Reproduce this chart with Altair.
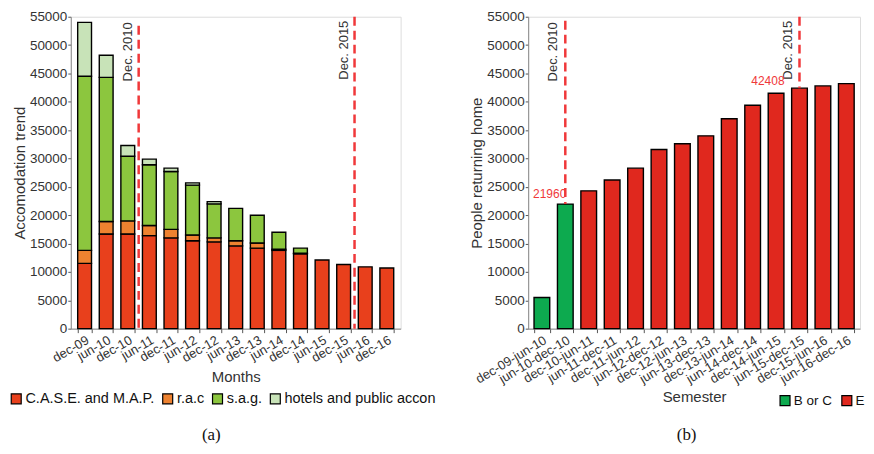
import altair as alt
import pandas as pd

# ---------------- data: panel (a) ----------------
months = ["dec-09", "jun-10", "dec-10", "jun-11", "dec-11", "jun-12", "dec-12",
          "jun-13", "dec-13", "jun-14", "dec-14", "jun-15", "dec-15", "jun-16", "dec-16"]
case_map = [11500, 16700, 16700, 16400, 16000, 15500, 15300, 14600, 14200, 13800,
            13200, 12100, 11300, 10900, 10700]
rac = [2300, 2200, 2300, 1800, 1500, 1000, 700, 900, 900, 200, 100, 0, 0, 0, 0]
sag = [30700, 25400, 11400, 10700, 10200, 8800, 6000, 5700, 4900, 3000, 900, 0, 0, 0, 0]
hotels = [9500, 3900, 1900, 1000, 600, 400, 400, 0, 0, 0, 0, 0, 0, 0, 0]
series_names = ["C.A.S.E. and M.A.P.", "r.a.c", "s.a.g.", "hotels and public accon"]
series_colors = ["#E8401C", "#EE8230", "#8CC63E", "#C8E3B8"]

rule_a_months = ["dec-10", "dec-15"]
rule_a_top = [53400, 55000]
rule_a_labels = ["Dec. 2010", "Dec. 2015"]
rule_a_label_y = [54000, 54300]

# ---------------- data: panel (b) ----------------
semesters = ["dec-09-jun-10", "jun-10-dec-10", "dec-10-jun-11", "jun-11-dec-11",
             "dec-11-jun-12", "jun-12-dec-12", "dec-12-jun-13", "jun-13-dec-13",
             "dec-13-jun-14", "jun-14-dec-14", "dec-14-jun-15", "jun-15-dec-15",
             "dec-15-jun-16", "jun-16-dec-16"]
returning = [5500, 21960, 24300, 26200, 28300, 31600, 32600, 34000, 37000, 39400,
             41500, 42408, 42800, 43200]
zones = ["B or C", "B or C"] + ["E"] * 12
zone_names = ["B or C", "E"]
zone_colors = ["#0DAA4F", "#E0281E"]

rule_b_sems = ["jun-10-dec-10", "jun-15-dec-15"]
rule_b_top = [54300, 55000]
rule_b_bottom = [21960, 42408]
rule_b_labels = ["Dec. 2010", "Dec. 2015"]
rule_b_label_y = [54000, 54300]
value_labels = ["21960", "42408"]
value_label_y = [23700, 43650]

# ---------------- build tables ----------------
rows = []
for i, m in enumerate(months):
    for k, vals in enumerate([case_map, rac, sag, hotels]):
        if vals[i] > 0:
            rows.append({"month": m, "series": series_names[k], "value": vals[i], "order": k})
df_a = pd.DataFrame(rows)
df_rule_a = pd.DataFrame({"month": rule_a_months, "top": rule_a_top,
                          "bottom": [0, 0], "label": rule_a_labels, "ly": rule_a_label_y})

df_b = pd.DataFrame({"sem": semesters, "value": returning, "zone": zones})
df_rule_b = pd.DataFrame({"sem": rule_b_sems, "top": rule_b_top, "bottom": rule_b_bottom,
                          "label": rule_b_labels, "ly": rule_b_label_y,
                          "vlabel": value_labels, "vy": value_label_y})

FONT = "Liberation Sans"
TXT = "#333333"
RED = "#F0383A"
H = 313

axis_style = dict(labelFont=FONT, titleFont=FONT, labelColor=TXT, titleColor=TXT,
                  titleFontSize=15, titleFontWeight="normal",
                  domainColor="#8a8a8a", tickColor="#555555", grid=False)

y_scale = alt.Scale(domain=[0, 55000], nice=False)
y_ticks = list(range(0, 55001, 5000))


def y_enc(field, title, **kw):
    return alt.Y(field, scale=y_scale, title=title,
                 axis=alt.Axis(values=y_ticks, format="d", labelOverlap=False, tickSize=3,
                               labelPadding=1, labelFontSize=13.5, titlePadding=2,
                               **axis_style), **kw)


legend_common = dict(orient="none", direction="horizontal", symbolType="square",
                     symbolSize=100, symbolStrokeColor="black", symbolStrokeWidth=1.2,
                     labelFont=FONT, labelColor="#111111", labelOffset=2, padding=0)

# ---------------- panel (a) ----------------
xa_scale = alt.Scale(domain=months, paddingInner=0.36, paddingOuter=0.32)
xa_axis = alt.Axis(labelAngle=-30, tickBand="extent", tickSize=4, labelFontSize=13,
                   labelAlign="right", labelBaseline="top", labelPadding=1,
                   titlePadding=5, **axis_style)


def xa_enc(**kw):
    return alt.X("month:N", scale=xa_scale, title="Months", axis=xa_axis, **kw)


bars_a = alt.Chart(df_a).mark_bar(stroke="black", strokeWidth=1.4).encode(
    x=xa_enc(),
    y=y_enc("value:Q", "Accomodation trend", stack="zero"),
    color=alt.Color("series:N", scale=alt.Scale(domain=series_names, range=series_colors),
                    title=None,
                    legend=alt.Legend(legendX=-62, legendY=376, labelFontSize=14.5,
                                      columnPadding=5, labelLimit=300, **legend_common)),
    order=alt.Order("order:Q"),
)

rules_a = alt.Chart(df_rule_a).mark_rule(color=RED, strokeWidth=2.5, strokeDash=[9, 5],
                                         xOffset=4).encode(
    x=xa_enc(bandPosition=1),
    y=y_enc("top:Q", "Accomodation trend"),
    y2="bottom:Q",
)

rule_text_a = alt.Chart(df_rule_a).mark_text(angle=270, align="right", baseline="bottom",
                                             xOffset=4, dy=-4, font=FONT, fontSize=13,
                                             color=TXT).encode(
    x=xa_enc(bandPosition=1),
    y=y_enc("ly:Q", "Accomodation trend"),
    text="label:N",
)

cap_a = alt.Chart(pd.DataFrame({"t": ["(a)"]})).mark_text(
    font="Liberation Serif", fontSize=17, color="#111111", align="center",
    baseline="middle").encode(x=alt.value(141), y=alt.value(420), text="t:N")

panel_a = alt.layer(bars_a, rules_a, rule_text_a, cap_a).properties(width=331, height=H)

# ---------------- panel (b) ----------------
xb_scale = alt.Scale(domain=semesters, paddingInner=0.33, paddingOuter=0.25)
xb_axis = alt.Axis(labelAngle=-31, tickBand="extent", tickSize=4, labelFontSize=13,
                   labelAlign="right", labelBaseline="top", labelPadding=1,
                   titlePadding=4, **axis_style)


def xb_enc(**kw):
    return alt.X("sem:N", scale=xb_scale, title="Semester", axis=xb_axis, **kw)


bars_b = alt.Chart(df_b).mark_bar(stroke="black", strokeWidth=1.4).encode(
    x=xb_enc(),
    y=y_enc("value:Q", "People returning home"),
    color=alt.Color("zone:N", scale=alt.Scale(domain=zone_names, range=zone_colors),
                    title=None,
                    legend=alt.Legend(legendX=251, legendY=378, labelFontSize=13.5,
                                      columnPadding=7, **legend_common)),
)

rules_b = alt.Chart(df_rule_b).mark_rule(color=RED, strokeWidth=2.5,
                                         strokeDash=[9, 5]).encode(
    x=xb_enc(bandPosition=0.5),
    y=y_enc("top:Q", "People returning home"),
    y2="bottom:Q",
)

rule_text_b = alt.Chart(df_rule_b).mark_text(angle=270, align="right", baseline="bottom",
                                             dy=-5, font=FONT, fontSize=13,
                                             color=TXT).encode(
    x=xb_enc(bandPosition=0.5),
    y=y_enc("ly:Q", "People returning home"),
    text="label:N",
)

val_text_1 = alt.Chart(df_rule_b.iloc[[0]]).mark_text(
    align="right", baseline="middle", dx=1, font=FONT, fontSize=12, color=RED).encode(
    x=xb_enc(bandPosition=0.5),
    y=y_enc("vy:Q", "People returning home"),
    text="vlabel:N",
)
val_text_2 = alt.Chart(df_rule_b.iloc[[1]]).mark_text(
    align="right", baseline="middle", dx=-15, font=FONT, fontSize=12, color=RED).encode(
    x=xb_enc(bandPosition=0.5),
    y=y_enc("vy:Q", "People returning home"),
    text="vlabel:N",
)

cap_b = alt.Chart(pd.DataFrame({"t": ["(b)"]})).mark_text(
    font="Liberation Serif", fontSize=17, color="#111111", align="center",
    baseline="middle").encode(x=alt.value(159), y=alt.value(420), text="t:N")

panel_b = alt.layer(bars_b, rules_b, rule_text_b, val_text_1, val_text_2, cap_b).properties(
    width=333, height=H)

chart = alt.hconcat(panel_a, panel_b, spacing=128, bounds="flush").resolve_scale(
    color="independent", x="independent", y="independent"
).properties(padding=0).configure_view(stroke="#8a8a8a", strokeWidth=1).configure(
    background="white")

chart.save("out.html", embed_options={"renderer": "svg", "actions": False})
